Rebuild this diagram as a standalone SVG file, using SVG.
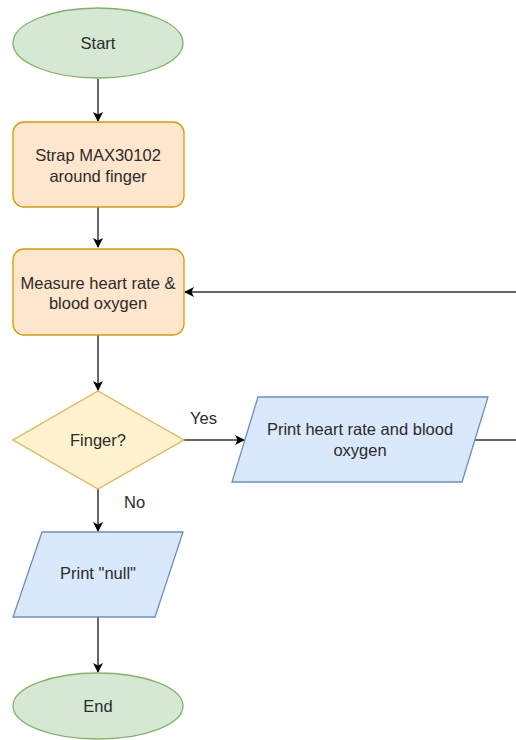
<svg xmlns="http://www.w3.org/2000/svg" width="516" height="740" viewBox="0 0 516 740">
<defs>
<marker id="arr" viewBox="0 0 10 10" refX="9" refY="5" markerWidth="10" markerHeight="10" markerUnits="userSpaceOnUse" orient="auto">
<path d="M0,0 L10,5 L0,10 L2.5,5 Z" fill="#000"/>
</marker>
<style>
text{font-family:"Liberation Sans",Arial,sans-serif;font-size:16.5px;fill:#2b2b2b;text-anchor:middle}
.term{fill:#d5e8d4;stroke:#82b366;stroke-width:1.3}
.proc{fill:#ffe6cc;stroke:#d79b00;stroke-width:1.3}
.dec{fill:#fff2cc;stroke:#d6b656;stroke-width:1.3}
.io{fill:#dae8fc;stroke:#6c8ebf;stroke-width:1.3}
.edge{fill:none;stroke:#333;stroke-width:1.5}
.lbl{text-anchor:start}
</style>
</defs>
<rect width="516" height="740" fill="#fff"/>
<g id="connectors">
<path class="edge" d="M98,79 V121" marker-end="url(#arr)"/>
<path class="edge" d="M98,207 V247" marker-end="url(#arr)"/>
<path class="edge" d="M98,335 V390" marker-end="url(#arr)"/>
<path class="edge" d="M184,440 H244" marker-end="url(#arr)"/>
<path class="edge" d="M98,489 V531" marker-end="url(#arr)"/>
<path class="edge" d="M98,617 V672" marker-end="url(#arr)"/>
<path class="edge" d="M475,440 H516"/>
<path class="edge" d="M516,292 H185" marker-end="url(#arr)"/>
<text class="lbl" x="190" y="424">Yes</text>
<text class="lbl" x="124" y="508">No</text>
</g>
<g id="start">
<ellipse class="term" cx="98" cy="43" rx="85" ry="35"/>
<text x="98" y="49">Start</text>
</g>
<g id="strap">
<rect class="proc" x="13" y="122" width="171" height="85" rx="11"/>
<text x="98" y="161">Strap MAX30102</text>
<text x="98" y="182">around finger</text>
</g>
<g id="measure">
<rect class="proc" x="13" y="249" width="171" height="86" rx="11"/>
<text x="98" y="289">Measure heart rate &amp;</text>
<text x="98" y="309">blood oxygen</text>
</g>
<g id="finger">
<polygon class="dec" points="98,391 184,440 98,489 13,440"/>
<text x="98" y="446">Finger?</text>
</g>
<g id="print-hr">
<polygon class="io" points="258,397 488,397 462,482 232,482"/>
<text x="360" y="435">Print heart rate and blood</text>
<text x="360" y="456">oxygen</text>
</g>
<g id="print-null">
<polygon class="io" points="42,532 183,532 155,617 13,617"/>
<text x="98" y="579">Print "null"</text>
</g>
<g id="end">
<ellipse class="term" cx="98" cy="706" rx="85" ry="33"/>
<text x="98" y="712">End</text>
</g>
</svg>
